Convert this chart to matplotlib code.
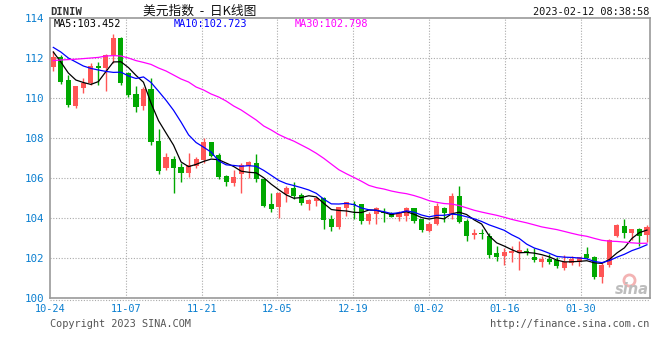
import numpy as np
import pandas as pd
import matplotlib
matplotlib.use("Agg")
import matplotlib.pyplot as plt

# daily K-line of DINIW, 2022-10-24 .. 2023-02-10
opens = [111.57, 112.03, 110.90, 109.60, 110.52, 110.73, 111.60, 111.52, 112.15, 113.00,
         111.27, 110.20, 109.60, 110.43, 107.85, 106.52, 106.95, 106.57, 106.23, 106.60,
         106.90, 107.78, 107.15, 106.10, 105.77, 106.18, 106.62, 106.77, 105.93, 104.70,
         104.53, 105.20, 105.52, 105.15, 104.70, 104.87, 105.02, 103.93, 103.57, 104.52,
         104.70, 104.68, 103.85, 104.18, 104.32, 104.27, 104.07, 104.12, 104.48, 103.93,
         103.35, 103.68, 104.48, 104.20, 105.10, 103.85, 103.15, 103.27, 103.10, 102.23,
         102.10, 102.27, 102.27, 102.37, 102.03, 101.82, 101.97, 101.90, 101.48, 101.73,
         101.82, 102.20, 102.03, 101.07, 101.65, 103.10, 103.62, 103.27, 103.45, 103.15]
highs = [112.35, 112.15, 111.13, 110.62, 111.00, 111.73, 111.82, 112.20, 113.20, 113.07,
         111.30, 110.60, 110.55, 110.98, 108.43, 107.23, 107.10, 106.73, 107.23, 107.07,
         107.98, 107.80, 107.23, 106.15, 106.40, 106.73, 106.87, 107.20, 105.95, 105.27,
         105.30, 105.60, 105.82, 105.27, 104.93, 105.03, 105.03, 104.15, 104.57, 104.80,
         104.87, 104.70, 104.32, 104.53, 104.48, 104.32, 104.35, 104.53, 104.50, 103.95,
         103.82, 104.77, 104.53, 105.27, 105.60, 103.93, 103.43, 103.43, 103.23, 102.60,
         102.48, 102.60, 102.85, 102.48, 102.48, 102.10, 102.20, 102.03, 102.15, 102.10,
         102.05, 102.57, 102.10, 101.73, 102.93, 103.70, 103.93, 103.47, 103.48, 103.65]
lows = [111.37, 110.70, 109.57, 109.48, 110.27, 110.65, 110.65, 110.35, 111.73, 110.65,
        110.05, 109.32, 109.40, 107.65, 106.20, 106.40, 105.27, 105.82, 106.03, 106.48,
        106.73, 107.07, 105.95, 105.60, 105.62, 105.27, 105.98, 105.82, 104.53, 104.32,
        103.98, 104.82, 104.93, 104.65, 104.40, 104.60, 103.45, 103.35, 103.45, 104.12,
        103.93, 103.68, 103.70, 103.68, 103.78, 104.05, 103.85, 103.85, 103.73, 103.32,
        103.32, 103.65, 103.82, 103.93, 103.77, 102.87, 102.93, 102.93, 101.98, 101.85,
        101.65, 101.82, 101.40, 102.15, 101.82, 101.57, 101.70, 101.48, 101.40, 101.65,
        101.60, 101.93, 100.95, 100.77, 101.57, 103.03, 102.98, 102.90, 102.60, 102.80]
closes = [112.07, 110.82, 109.65, 110.60, 110.73, 111.60, 111.52, 112.15, 113.02, 110.77,
          110.15, 109.57, 110.43, 107.82, 106.37, 107.07, 106.52, 106.23, 106.65, 106.93,
          107.82, 107.10, 106.07, 105.82, 106.07, 106.65, 106.82, 105.93, 104.60, 104.45,
          105.27, 105.52, 105.10, 104.77, 104.90, 104.98, 103.90, 103.57, 104.53, 104.78,
          104.63, 103.85, 104.20, 104.48, 104.23, 104.07, 104.27, 104.52, 103.85, 103.40,
          103.70, 104.60, 104.23, 105.10, 103.82, 103.12, 103.27, 103.18, 102.15, 102.07,
          102.32, 102.37, 102.40, 102.23, 101.90, 101.93, 101.82, 101.60, 101.78, 101.93,
          102.03, 101.98, 101.07, 101.65, 102.90, 103.65, 103.27, 103.43, 103.10, 103.53]

# moving averages before their window is full (history not on the chart)
ma5_head = [112.30, 111.80, 111.25, 110.90]
ma10_head = [112.53, 112.30, 112.00, 111.80, 111.60, 111.48, 111.40, 111.33, 111.28]
ma30_head = [111.87, 111.90, 111.92, 111.94, 111.97, 112.00, 112.03, 112.10, 112.12, 112.10,
             112.00, 111.87, 111.78, 111.68, 111.50, 111.35, 111.15, 110.95, 110.80, 110.55,
             110.40, 110.20, 110.05, 109.85, 109.60, 109.40, 109.15, 108.90, 108.60]

date_labels = ["10-24", "11-07", "11-21", "12-05", "12-19", "01-02", "01-16", "01-30"]
y_ticks = [100, 102, 104, 106, 108, 110, 112, 114]

ma_text = ["MA5:103.452", "MA10:102.723", "MA30:102.798"]

RED = "#ff5555"
GREEN = "#00a800"
AXBLUE = "#0a7fd0"
MONO = "DejaVu Sans Mono"

df = pd.DataFrame({"open": opens, "high": highs, "low": lows, "close": closes})
ma5 = df["close"].rolling(5).mean().to_numpy()
ma5[:len(ma5_head)] = ma5_head
ma10 = df["close"].rolling(10).mean().to_numpy()
ma10[:len(ma10_head)] = ma10_head
ma30 = df["close"].rolling(30).mean().to_numpy()
ma30[:len(ma30_head)] = ma30_head

fig = plt.figure(figsize=(6.6, 3.6), dpi=100)
W, H = 660.0, 360.0
ax = fig.add_axes([50 / W, 1 - 298 / H, 599.5 / W, 280 / H])

x = np.arange(len(df))
up = df["close"] >= df["open"]
cols = np.where(up, RED, GREEN)

# wicks then bodies
ax.vlines(x, df["low"], df["high"], colors=cols, linewidth=1.0, zorder=2)
body_lo = np.minimum(df["open"], df["close"])
body_h = np.maximum(np.abs(df["close"] - df["open"]), 0.06)
ax.bar(x, body_h, bottom=body_lo, width=0.68, color=cols, linewidth=0, zorder=3)

ax.plot(x, ma5, color="black", lw=0.9, zorder=4)
ax.plot(x, ma10, color="#0000ff", lw=0.9, zorder=4)
ax.plot(x, ma30, color="#ff00ff", lw=0.9, zorder=4)

ax.set_ylim(100, 114)
ax.set_xlim(-0.44, 79.34)

# grid: horizontal on price levels, vertical every two weeks
grid_x = np.arange(len(date_labels)) * 10.09 - 0.44
for gy in y_ticks[1:-1]:
    ax.axhline(gy, color="#aaaaaa", lw=0.8, ls=(0, (1, 1.5)), zorder=1)
for gx in grid_x[1:]:
    ax.axvline(gx, color="#aaaaaa", lw=0.8, ls=(0, (1, 1.5)), zorder=1)

ax.set_yticks(y_ticks)
ax.set_yticklabels([str(v) for v in y_ticks], family=MONO, fontsize=7.8, color=AXBLUE)
ax.set_xticks(grid_x)
ax.set_xticklabels(date_labels, family=MONO, fontsize=7.4, color=AXBLUE)
ax.tick_params(axis="y", length=0, pad=4)
ax.tick_params(axis="x", length=0, pad=4)
for s in ax.spines.values():
    s.set_color("#999999")
    s.set_linewidth(1.2)

# dotted rule just under the bottom axis
ax.plot([0, 1], [-0.008, -0.008], transform=ax.transAxes, color="#aaaaaa",
        lw=0.8, ls=(0, (1, 1.5)), clip_on=False)

# header
fig.text(50 / W, 1 - 12 / H, "DINIW", family=MONO, fontsize=7.6, weight="bold",
         color="#333333", va="center", ha="left")
fig.text(200 / W, 1 - 11 / H, "美元指数  -  日K线图",
         family=["Noto Sans CJK SC", "DejaVu Sans"], fontsize=9.2, color="#111111",
         va="center", ha="center")
fig.text(649 / W, 1 - 12 / H, "2023-02-12 08:38:58", family=MONO, fontsize=7.4,
         color="#111111", va="center", ha="right")

# MA values inside the top of the plot
for txt, xp, c in zip(ma_text, [54, 174, 295], ["black", "#0000ff", "#ff00ff"]):
    fig.text(xp / W, 1 - 24 / H, txt, family=MONO, fontsize=7.4, color=c,
             va="center", ha="left")

# sina watermark
ax.plot([629 / W], [1 - 280 / H], transform=fig.transFigure, marker="o", ms=8,
        mfc="none", mec="#f3b3b3", mew=2, clip_on=False, zorder=0)
fig.text(632 / W, 1 - 290 / H, "sina", fontsize=10.5, style="italic", weight="bold",
         color="#bdbdbd", va="center", ha="center")

# footer
fig.text(50 / W, 1 - 324 / H, "Copyright 2023 SINA.COM", family=MONO, fontsize=7.4,
         color="#555555", va="center", ha="left")
fig.text(649 / W, 1 - 324 / H, "http://finance.sina.com.cn", family=MONO,
         fontsize=7.4, color="#555555", va="center", ha="right")

fig.savefig("out.png", dpi=100, facecolor="white")
